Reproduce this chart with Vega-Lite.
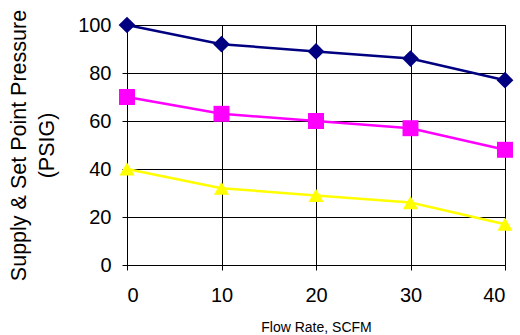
{
  "$schema": "https://vega.github.io/schema/vega-lite/v6.json",
  "autosize": "none",
  "width": 378,
  "height": 240,
  "padding": {"left": 127, "top": 25, "right": 15, "bottom": 70},
  "background": "white",
  "config": {
    "view": {"stroke": "black", "strokeWidth": 1},
    "font": "Liberation Sans"
  },
  "data": {
    "values": [
      {"flow": 0, "pressure": 100, "series": "Supply"},
      {"flow": 10, "pressure": 92, "series": "Supply"},
      {"flow": 20, "pressure": 89, "series": "Supply"},
      {"flow": 30, "pressure": 86, "series": "Supply"},
      {"flow": 40, "pressure": 77, "series": "Supply"},
      {"flow": 0, "pressure": 70, "series": "Set Point A"},
      {"flow": 10, "pressure": 63, "series": "Set Point A"},
      {"flow": 20, "pressure": 60, "series": "Set Point A"},
      {"flow": 30, "pressure": 57, "series": "Set Point A"},
      {"flow": 40, "pressure": 48, "series": "Set Point A"},
      {"flow": 0, "pressure": 40, "series": "Set Point B"},
      {"flow": 10, "pressure": 32, "series": "Set Point B"},
      {"flow": 20, "pressure": 29, "series": "Set Point B"},
      {"flow": 30, "pressure": 26, "series": "Set Point B"},
      {"flow": 40, "pressure": 17, "series": "Set Point B"}
    ]
  },
  "encoding": {
    "x": {
      "field": "flow", "type": "quantitative",
      "scale": {"domain": [0, 40], "nice": false, "zero": false},
      "axis": {
        "title": "Flow Rate, SCFM", "titleFontSize": 14, "titleFontWeight": "normal", "titleColor": "black",
        "titlePadding": 15,
        "values": [0, 10, 20, 30, 40],
        "labelFontSize": 20, "labelColor": "black", "labelPadding": 15,
        "tickColor": "black", "tickSize": 5, "domain": false,
        "grid": true, "gridColor": "black", "gridOpacity": 1, "gridWidth": 1
      }
    },
    "y": {
      "field": "pressure", "type": "quantitative",
      "scale": {"domain": [0, 100], "nice": false},
      "axis": {
        "title": ["Supply & Set Point Pressure", "(PSIG)"],
        "titleFontSize": 21.5, "titleFontWeight": "normal", "titleColor": "black",
        "titleLineHeight": 28, "titleAngle": -90, "titleBaseline": "bottom",
        "titleAlign": "center", "titleX": -97, "titleY": 120,
        "values": [0, 20, 40, 60, 80, 100],
        "labelFontSize": 20, "labelColor": "black", "labelPadding": 11,
        "tickColor": "black", "tickSize": 5, "domain": false,
        "grid": true, "gridColor": "black", "gridOpacity": 1, "gridWidth": 1
      }
    },
    "color": {
      "field": "series", "type": "nominal",
      "scale": {"domain": ["Supply", "Set Point A", "Set Point B"], "range": ["#000080", "#FF00FF", "#FFFF00"]},
      "legend": null
    }
  },
  "layer": [
    {"mark": {"type": "line", "strokeWidth": 2.5}},
    {
      "mark": {"type": "point", "filled": true, "opacity": 1},
      "encoding": {
        "shape": {
          "field": "series", "type": "nominal",
          "scale": {"domain": ["Supply", "Set Point A", "Set Point B"], "range": ["diamond", "square", "triangle-up"]},
          "legend": null
        },
        "size": {
          "field": "series", "type": "nominal",
          "scale": {"domain": ["Supply", "Set Point A", "Set Point B"], "range": [280, 230, 300]},
          "legend": null
        }
      }
    }
  ]
}
